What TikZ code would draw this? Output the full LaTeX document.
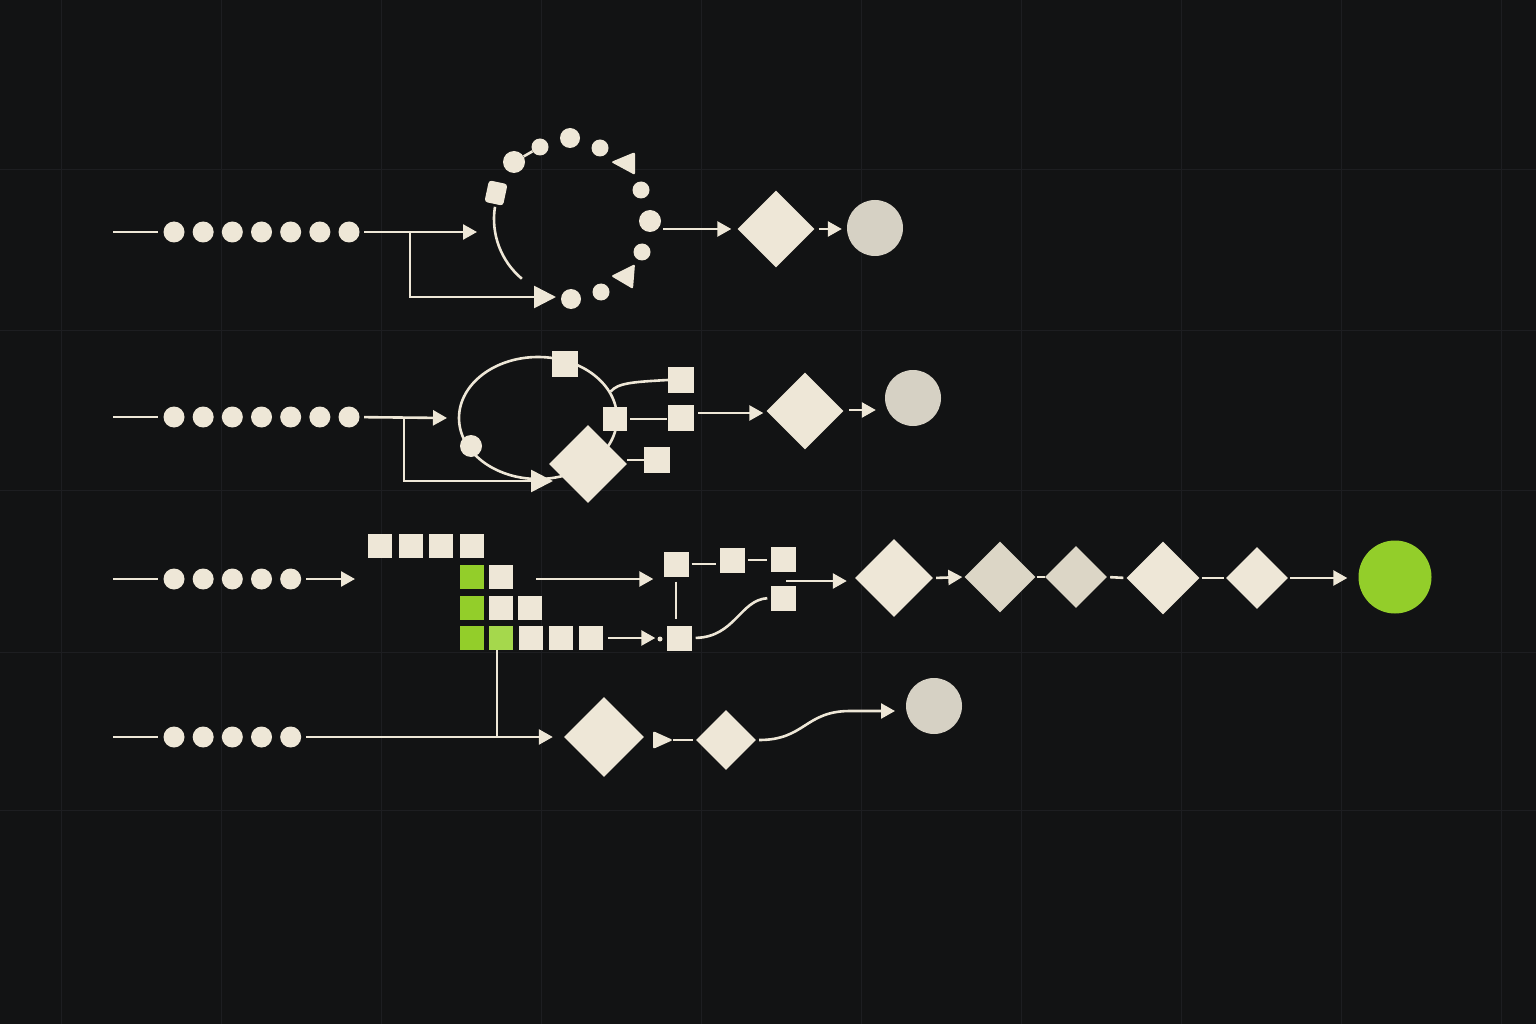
\documentclass[tikz,border=0pt]{standalone}
\usetikzlibrary{shapes.geometric,arrows.meta,calc}
\definecolor{bg}{HTML}{121314}
\definecolor{gridc}{HTML}{1D1E21}
\definecolor{cream}{HTML}{EEE7D7}
\definecolor{stone}{HTML}{D6D1C4}
\definecolor{sand}{HTML}{DCD6C6}
\definecolor{lime}{HTML}{93CE2A}
\definecolor{limel}{HTML}{A5D84C}
\tikzset{
  dot/.style={circle,fill=cream,inner sep=0pt,minimum size=#1},
  dot/.default=21pt,
  sq/.style={rectangle,fill=cream,inner sep=0pt,minimum size=#1},
  sq/.default=25pt,
  dia/.style={diamond,fill=cream,inner sep=0pt,minimum size=#1},
  endc/.style={circle,fill=stone,inner sep=0pt,minimum size=56pt},
  wire/.style={draw=cream,line width=2.6pt},
  arr/.style={wire,-{Triangle[length=14pt,width=15pt]}},
  bigarr/.style={wire,-{Triangle[length=22pt,width=22pt]}},
  tri/.style={fill=cream,rounded corners=2pt},
  gridline/.style={draw=gridc,line width=1pt}
}
\begin{document}
\begin{tikzpicture}[x=1pt,y=-1pt]
\fill[bg] (0,0) rectangle (1536,1024);
\useasboundingbox (0,0) rectangle (1536,1024);
\foreach \gx in {61,221,...,1501} \draw[gridline] (\gx,0) -- (\gx,1024);
\foreach \gy in {170,330,490,652,810} \draw[gridline] (0,\gy) -- (1536,\gy);

% ---------------- Row 1 ----------------
\coordinate (a0) at (113,232);
\foreach \i in {1,...,7} \node[dot] (a\i) at ({174+29.17*(\i-1)},232) {};
\draw[wire,shorten >=5pt] (a0) -- (a1);
\coordinate (ain) at (477,232);
\draw[arr,shorten <=4.5pt] (a7) -- (ain);
\coordinate (ab) at (410,232);
\coordinate (atri) at (556,297);
\draw[bigarr] (ab) |- (atri);

\coordinate (rc) at (572,219);
\draw[wire] ($(rc)+(189:78)$) arc[start angle=189,end angle=130,radius=78];
\node[dot=20pt] (r1) at (570,138) {};
\node[dot=17pt] (r2) at (600,148) {};
\node[dot=17pt] (r3) at (641,190) {};
\node[dot=22pt] (r4) at (650,221) {};
\node[dot=17pt] (r5) at (642,252) {};
\node[dot=17pt] (r6) at (601,292) {};
\node[dot=20pt] (r7) at (571,299) {};
\node[dot=22pt] (r8) at (514,162) {};
\node[dot=17pt] (r9) at (540,147) {};
\draw[wire] (r8) -- (r9);
\node[rectangle,fill=cream,rounded corners=3pt,minimum width=19pt,minimum height=22pt,inner sep=0pt,rotate=-12] (r10) at (496,193) {};
\fill[tri] (611,162) -- (635,152) -- (635,175) -- cycle;
\fill[tri] (611,276) -- (635,264) -- (633,289) -- cycle;

\node[dia=77pt] (d1) at (776,229) {};
\draw[arr,shorten <=2pt,shorten >=6pt] (r4.east |- d1) -- (d1.west);
\node[endc] (c1) at (875,228) {};
\draw[arr,shorten <=4pt,shorten >=5pt] (d1.east) -- (d1.east -| c1.west);

% ---------------- Row 2 ----------------
\coordinate (b0) at (113,417);
\foreach \i in {1,...,7} \node[dot] (b\i) at ({174+29.17*(\i-1)},417) {};
\draw[wire,shorten >=5pt] (b0) -- (b1);
\coordinate (bin) at (447,418);
\draw[arr,shorten <=4.5pt] (b7) -- (bin);
\coordinate (bb) at (404,418);
\coordinate (btri) at (553,481);
\draw[bigarr] (bb) |- (btri);

\node[ellipse,draw=cream,line width=2.6pt,minimum width=158pt,minimum height=122pt,inner sep=0pt] (ell) at (538,418) {};
\node[sq=26pt] (s2a) at (565,364) {};
\node[sq=24pt] (s2b) at (615,419) {};
\node[dot=22pt] (blob) at (471,446) {};
\node[dia=78pt] (d2a) at (588,464) {};
\node[sq=26pt] (s2c) at (681,380) {};
\node[sq=26pt] (s2d) at (681,418) {};
\node[sq=26pt] (s2e) at (657,460) {};
\draw[wire] (ell.20) .. controls (618,383) and (632,382) .. (s2c.west);
\draw[wire,shorten <=3pt,shorten >=1pt] (s2b.east) -- (s2b.east -| s2d.west);
\draw[wire] (d2a.east |- s2e.west) -- (s2e.west);

\node[dia=77pt] (d2b) at (805,411) {};
\coordinate (p2) at (694,413);
\draw[arr,shorten <=4pt,shorten >=3pt] (p2) -- (p2 -| d2b.west);
\node[endc] (c2) at (913,398) {};
\coordinate (q2) at (843,410);
\draw[arr,shorten <=6pt,shorten >=9pt] (q2) -- (q2 -| c2.west);

% ---------------- Row 3 ----------------
\coordinate (e0) at (113,579);
\foreach \i in {1,...,5} \node[dot] (e\i) at ({174+29.17*(\i-1)},579) {};
\draw[wire,shorten >=5pt] (e0) -- (e1);
\coordinate (ein) at (355,579);
\draw[arr,shorten <=4.5pt] (e5) -- (ein);

\foreach \x/\n in {380/1,411/2,441/3,472/4} \node[sq=24pt] (g1\n) at (\x,546) {};
\node[sq=24pt,fill=lime] (g21) at (472,577) {};
\node[sq=24pt] (g22) at (501,577) {};
\node[sq=24pt,fill=lime] (g31) at (472,608) {};
\node[sq=24pt] (g32) at (501,608) {};
\node[sq=24pt] (g33) at (530,608) {};
\node[sq=24pt,fill=lime] (g41) at (472,638) {};
\node[sq=24pt,fill=limel] (g42) at (501,638) {};
\node[sq=24pt] (g43) at (531,638) {};
\node[sq=24pt] (g44) at (561,638) {};
\node[sq=24pt] (g45) at (591,638) {};

\node[sq=25pt] (sA) at (676,564) {};
\node[sq=25pt] (sB) at (732,560) {};
\node[sq=25pt] (sC) at (783,559) {};
\node[sq=25pt] (sD) at (783,598) {};
\node[sq=25pt] (sE) at (679,638) {};
\node[dot=5pt] (sdot) at (660,639) {};
\coordinate (p3) at (513,579);
\draw[arr,shorten <=23pt,shorten >=10pt] (p3) -- (p3 -| sA.west);
\draw[wire,shorten <=3pt,shorten >=3pt] (sA.east) -- (sA.east -| sB.west);
\draw[wire,shorten <=3pt,shorten >=3pt] (sB.east) -- (sB.east -| sC.west);
\draw[wire,shorten <=5pt,shorten >=6pt] (sA.south) -- (sA.south |- sE.north);
\draw[arr,shorten <=5pt,shorten >=11pt] (g45.east) -- (g45.east -| sE.west);
\draw[wire,shorten <=4pt,shorten >=3pt] (sE.east) .. controls (735,637) and (740,600) .. (sD.west);

\node[dia=78pt] (D1) at (894,578) {};
\node[dia=71pt,fill=sand] (D2) at (1000,577) {};
\node[dia=62pt,fill=sand] (D3) at (1076,577) {};
\node[dia=73pt] (D4) at (1163,578) {};
\node[dia=62pt] (D5) at (1257,578) {};
\node[circle,fill=lime,inner sep=0pt,minimum size=73pt] (G) at (1395,577) {};
\coordinate (k0) at (786,581);
\draw[arr,shorten >=8pt] (k0) -- (k0 -| D1.west);
\draw[arr,shorten <=3pt,shorten >=2pt] (D1.east) -- (D2.west);
\draw[wire,shorten <=1pt] (D2.east) -- (D3.west);
\draw[wire,shorten <=3pt,shorten >=3pt] (D3.east) -- (D4.west);
\draw[wire,shorten <=2pt,shorten >=2pt] (D4.east) -- (D5.west);
\draw[arr,shorten <=2pt,shorten >=11pt] (D5.east) -- (D5.east -| G.west);

% ---------------- Row 4 ----------------
\coordinate (f0) at (113,737);
\foreach \i in {1,...,5} \node[dot] (f\i) at ({174+29.17*(\i-1)},737) {};
\draw[wire,shorten >=5pt] (f0) -- (f1);
\node[dia=80pt] (h1) at (604,737) {};
\draw[arr,shorten <=4.5pt,shorten >=11pt] (f5) -- (h1.west);
\coordinate (vtop) at (497,650);
\draw[wire] (vtop) -- (vtop |- f5);
\coordinate (t4) at (663,740);
\fill[tri] ($(t4)+(-10,-9)$) -- ($(t4)+(10,0)$) -- ($(t4)+(-10,9)$) -- cycle;
\node[dia=60pt] (h2) at (726,740) {};
\draw[wire,shorten <=10pt,shorten >=3pt] (t4) -- (h2.west);
\node[endc] (c4) at (934,706) {};
\coordinate (c4in) at (906,711);
\draw[arr,shorten >=11pt] ($(h2.east)+(3,0)$) .. controls (805,740) and (805,711) .. (850,711) -- (c4in);
\end{tikzpicture}
\end{document}
